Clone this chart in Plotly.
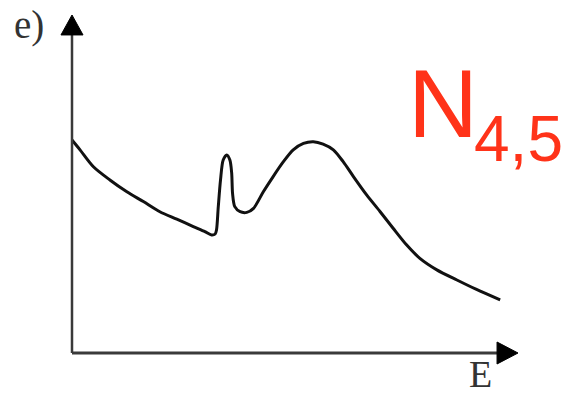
import plotly.graph_objects as go

# Data (arbitrary units: E 0..100 along axis, intensity 0..100)
energy = [0.0, 1.8, 4.8, 8.5, 12.3, 16.0, 19.7, 23.5, 27.2, 29.8, 31.3,
          32.1, 32.4, 32.8, 33.3, 33.9, 34.7, 35.4, 35.8, 36.0, 36.5, 37.7, 39.2, 40.7,
          42.9, 45.1, 47.4, 49.6, 51.9, 54.1, 56.3, 58.6, 60.8, 63.1, 66.1, 69.1,
          72.0, 75.0, 78.0, 81.8, 86.3, 90.7, 96.0]
intensity = [63.0, 60.1, 55.1, 51.2, 47.7, 44.8, 41.8, 39.6, 37.4, 35.9, 34.9,
             35.2, 36.4, 43.3, 51.2, 57.1, 58.6, 57.1, 53.3, 47.2, 43.3, 41.8, 41.6, 42.8,
             47.7, 52.2, 56.6, 60.1, 62.0, 62.5, 61.8, 60.1, 56.6, 52.2, 46.7, 41.8,
             36.9, 32.0, 28.0, 24.6, 21.6, 18.8, 15.7]

panel_label = "e)"
x_label = "E"
edge_main = "N"
edge_sub = "4,5"

W, H = 564, 394
ox, oy = 72, 353          # origin in pixels
sx, sy = 4.46, 3.38       # pixels per unit
x_range = [-ox / sx, (W - ox) / sx]
y_range = [-(H - oy) / sy, oy / sy]

fig = go.Figure()
fig.add_trace(go.Scatter(x=energy, y=intensity, mode="lines",
                         line=dict(color="#111111", width=3, shape="spline", smoothing=0.8),
                         hoverinfo="skip", showlegend=False))

axis_col = "#3a3a3a"
ax_len = 100
head = 4.7  # x units
head_y = 5.9  # y units
shapes = [
    dict(type="line", x0=0, y0=0, x1=0, y1=ax_len - head_y, line=dict(color=axis_col, width=2.5)),
    dict(type="line", x0=0, y0=0, x1=ax_len - head, y1=0, line=dict(color=axis_col, width=3)),
    dict(type="path",
         path=f"M {-2.47} {ax_len - head_y} L 2.47 {ax_len - head_y} L 0 {ax_len} Z",
         fillcolor="black", line=dict(color="black", width=1)),
    dict(type="path",
         path=f"M {ax_len - head} {-3.25} L {ax_len - head} 3.25 L {ax_len} 0 Z",
         fillcolor="black", line=dict(color="black", width=1)),
]

red = "#ff3319"
annotations = [
    dict(text=panel_label, x=12 / W, y=1 - 25 / H, xref="paper", yref="paper",
         xanchor="left", yanchor="middle", showarrow=False,
         font=dict(family="Liberation Serif", size=39, color="#333333")),
    dict(text=x_label, x=480 / W, y=1 - 374 / H, xref="paper", yref="paper",
         xanchor="center", yanchor="middle", showarrow=False,
         font=dict(family="Liberation Serif", size=38, color="#333333")),
    dict(text=edge_main, x=406 / W, y=1 - 103 / H, xref="paper", yref="paper",
         xanchor="left", yanchor="middle", showarrow=False,
         font=dict(family="Liberation Sans", size=97, color=red)),
    dict(text=edge_sub, x=472 / W, y=1 - 139 / H, xref="paper", yref="paper",
         xanchor="left", yanchor="middle", showarrow=False,
         font=dict(family="Liberation Sans", size=64, color=red)),
]

fig.update_layout(
    width=W, height=H, margin=dict(l=0, r=0, t=0, b=0),
    paper_bgcolor="white", plot_bgcolor="white",
    xaxis=dict(range=x_range, visible=False, fixedrange=True),
    yaxis=dict(range=y_range, visible=False, fixedrange=True),
    shapes=shapes, annotations=annotations,
)
fig.write_html("out.html")
